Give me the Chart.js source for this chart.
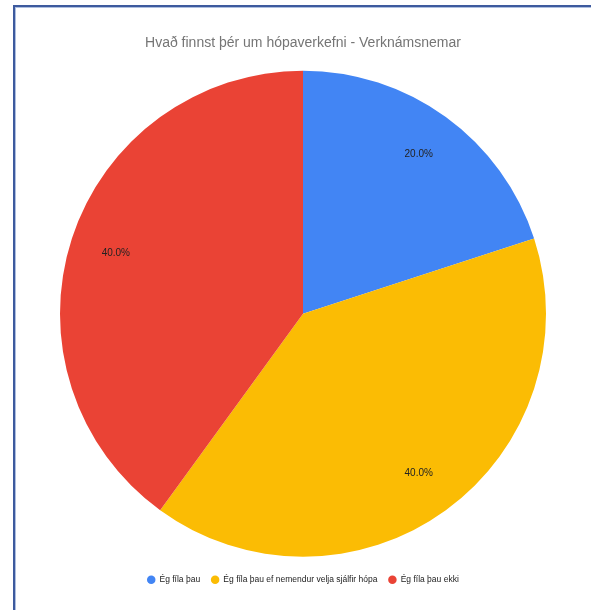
<!DOCTYPE html>
<html>
<head>
<meta charset="utf-8">
<script src="https://cdn.jsdelivr.net/npm/chart.js@4/dist/chart.umd.min.js"></script>
<style>
  html, body { margin: 0; padding: 0; background: #ffffff; }
  #wrap { position: relative; width: 591px; height: 610px; overflow: hidden; }
  #frame { position: absolute; left: 13px; top: 5px; width: 600px; height: 620px;
           border-left: 2px solid #3d5a9e; border-top: 2px solid #3d5a9e;
           box-shadow: inset 1px 1px 0 #aebfe0; }
  canvas { position: absolute; left: 0; top: 0; }
</style>
</head>
<body>
<div id="wrap">
  <div id="frame"></div>
  <canvas id="c" width="591" height="610"></canvas>
</div>
<script>
const titleText = "Hvað finnst þér um hópaverkefni - Verknámsnemar";
const categories = ["Ég fíla þau", "Ég fíla þau ef nemendur velja sjálfir hópa", "Ég fíla þau ekki"];
const values = [20, 40, 40];
const colors = ["#4285F4", "#FBBC04", "#EA4335"];

const pctLabels = {
  id: 'pctLabels',
  afterDatasetsDraw(chart) {
    const ctx = chart.ctx;
    const meta = chart.getDatasetMeta(0);
    const total = values.reduce((a, b) => a + b, 0);
    ctx.save();
    ctx.font = '10px "Liberation Sans", Arial, sans-serif';
    ctx.fillStyle = '#222222';
    ctx.textAlign = 'center';
    ctx.textBaseline = 'middle';
    meta.data.forEach((arc, i) => {
      const mid = (arc.startAngle + arc.endAngle) / 2;
      const r = arc.outerRadius * 0.81;
      const x = arc.x + Math.cos(mid) * r;
      const y = arc.y + Math.sin(mid) * r;
      ctx.fillText((values[i] / total * 100).toFixed(1) + '%', x, y);
    });
    ctx.restore();
  }
};

new Chart(document.getElementById('c'), {
  type: 'pie',
  data: {
    labels: categories,
    datasets: [{ data: values, backgroundColor: colors, borderWidth: 0, radius: 243 }]
  },
  options: {
    responsive: false,
    animation: false,
    layout: { padding: { left: 15, right: 0, top: 35, bottom: 16 } },
    plugins: {
      tooltip: { enabled: false },
      title: {
        display: true,
        text: titleText,
        color: '#757575',
        font: { family: '"Liberation Sans", Arial, sans-serif', size: 14, weight: 'normal' },
        padding: { top: 0, bottom: 11 }
      },
      legend: {
        position: 'bottom',
        labels: {
          usePointStyle: true,
          pointStyle: 'circle',
          boxWidth: 8,
          boxHeight: 6,
          color: '#222222',
          padding: 11,
          font: { family: '"Liberation Sans", Arial, sans-serif', size: 8.5 }
        }
      }
    }
  },
  plugins: [pctLabels]
});
</script>
</body>
</html>
